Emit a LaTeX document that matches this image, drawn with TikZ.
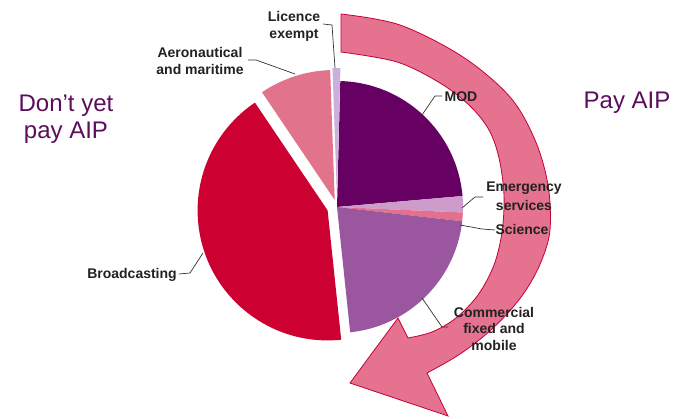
\documentclass[tikz,border=0pt]{standalone}
\usepackage{fontspec}
\setmainfont{Liberation Sans}
\definecolor{modc}{HTML}{660062}
\definecolor{emerc}{HTML}{CE9CCB}
\definecolor{scic}{HTML}{E2708E}
\definecolor{commc}{HTML}{9A579F}
\definecolor{brdc}{HTML}{CD0032}
\definecolor{aerc}{HTML}{E2738D}
\definecolor{licc}{HTML}{CAB0DA}
\definecolor{arrfill}{HTML}{E5728E}
\definecolor{arrline}{HTML}{C4003A}
\definecolor{bigtxt}{HTML}{5A0E5C}
\definecolor{lbltxt}{HTML}{222222}
\newcommand\pieslice[6]{\fill[#1] (#2,#3) -- ++(#4:#6) arc[start angle=#4, end angle=#5, radius=#6] -- cycle;}
\begin{document}
\begin{tikzpicture}[x=1pt,y=-1pt,
  lbl/.style={font=\fontsize{14}{17}\selectfont\bfseries, text=lbltxt, inner sep=0pt, anchor=base},
  big/.style={font=\fontsize{24}{28}\selectfont, text=bigtxt, inner sep=0pt, anchor=base},
  leader/.style={draw=black!80, line width=0.7pt},
  band/.style={fill=arrfill, draw=arrline, line width=0.8pt, line join=miter},
]
\useasboundingbox (0,0) rectangle (682,419);
\fill[white] (0,0) rectangle (682,419);

% circular arrow
\draw[band] plot[smooth, tension=0.55] coordinates {(341,14) (400,25) (463,57) (510,97) (535,140) (548,185) (550,230) (541,262) (526,290) (507,314) (484,336) (457,356) (427,373)}
  -- (448,416) -- (350,383) -- (398,318) -- (408,338)
  -- plot[smooth, tension=0.55] coordinates {(408,338) (432,332) (456,318) (478,295) (494,265) (502,232) (504,195) (499,158) (489,130) (470,106) (440,83) (397,62) (341,52)}
  -- cycle;

% pie
\pieslice{modc}{337}{207}{-88.5}{-5}{126}
\pieslice{emerc}{337}{207}{-5}{2.5}{126}
\pieslice{scic}{337}{207}{2.5}{6.5}{126}
\pieslice{commc}{337}{207}{6.5}{84}{126}
\pieslice{brdc}{327.6}{210.4}{84}{236}{130}
\pieslice{aerc}{334.7}{200}{236}{268}{130}
\pieslice{licc}{337}{198}{268}{271.5}{130}

% big texts
\node[big] (dy1) at (66,112) {Don’t yet};
\node[big] (dy2) at (66,139) {pay AIP};
\node[big] (pay) at (627,109) {Pay AIP};

% labels
\node[lbl] (lic1) at (294,22) {Licence};
\node[lbl] (lic2) at (294,39) {exempt};
\node[lbl] (aer1) at (200,58) {Aeronautical};
\node[lbl] (aer2) at (200,75) {and maritime};
\node[lbl] (mod) at (461,102) {MOD};
\node[lbl] (em1) at (524,192) {Emergency};
\node[lbl] (em2) at (524,211) {services};
\node[lbl] (sci) at (522,235) {Science};
\node[lbl] (com1) at (494,317) {Commercial};
\node[lbl] (com2) at (494,333) {fixed and};
\node[lbl] (com3) at (494,350) {mobile};
\node[lbl] (brd) at (132,279) {Broadcasting};

% leader end points
\coordinate (licA) at (323,24);
\coordinate (licB) at (332,25);
\coordinate (licC) at (335,68);
\coordinate (aerA) at (248,60);
\coordinate (aerB) at (256,60);
\coordinate (aerC) at (295,74);
\coordinate (modA) at (442,96);
\coordinate (modB) at (435,96);
\coordinate (modC) at (422,115);
\coordinate (emA) at (483,197);
\coordinate (emB) at (475,197);
\coordinate (emC) at (462,208);
\coordinate (sciA) at (495,230);
\coordinate (sciB) at (482,229);
\coordinate (sciC) at (460,225);
\coordinate (comA) at (448,327);
\coordinate (comB) at (442,327);
\coordinate (comC) at (422,298);
\coordinate (brdA) at (179,274);
\coordinate (brdB) at (190,273);
\coordinate (brdC) at (203,253);

\draw[leader] (licA) -- (licB) -- (licC);
\draw[leader] (aerA) -- (aerB) -- (aerC);
\draw[leader] (modA) -- (modB) -- (modC);
\draw[leader] (emA) -- (emB) -- (emC);
\draw[leader] (sciA) -- (sciB) -- (sciC);
\draw[leader] (comA) -- (comB) -- (comC);
\draw[leader] (brdA) -- (brdB) -- (brdC);
\end{tikzpicture}
\end{document}
